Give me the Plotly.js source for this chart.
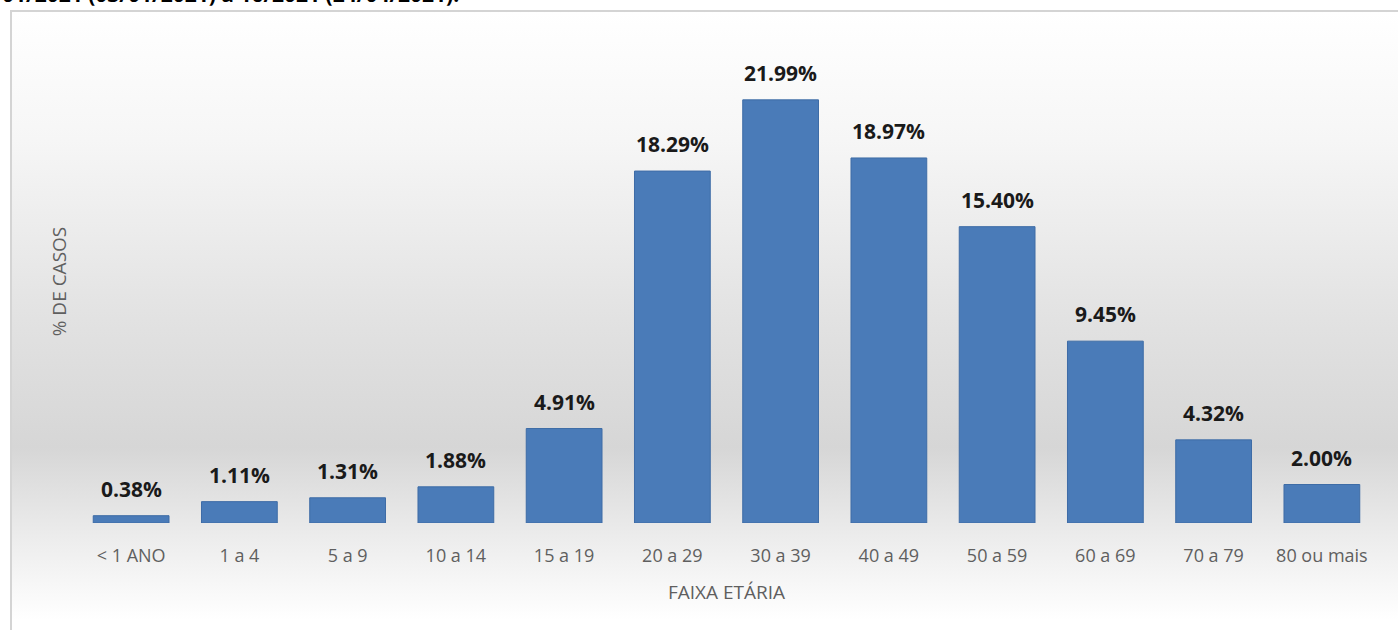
<!DOCTYPE html>
<html>
<head>
<meta charset="utf-8">
<script src="https://cdn.plot.ly/plotly-3.0.1.min.js"></script>
<style>
  html, body { margin: 0; padding: 0; background: #ffffff; overflow: hidden; }
  #wrap { position: relative; width: 1398px; height: 630px; }
  #frame {
    position: absolute; left: 10px; top: 10px; width: 1400px; height: 640px;
    border-left: 2px solid #d4d4d4; border-top: 2px solid #d4d4d4;
    background: linear-gradient(to bottom, #ffffff 0%, #f6f6f6 20%, #e2e2e2 48%, #d6d6d6 68%, #ececec 82%, #ffffff 95%);
  }
  #chart { position: absolute; left: 0; top: 0; width: 1398px; height: 630px; }
</style>
</head>
<body>
<div id="wrap">
  <div id="frame"></div>
  <div id="chart"></div>
</div>
<script>
const categories = ['< 1 ANO', '1 a 4', '5 a 9', '10 a 14', '15 a 19', '20 a 29', '30 a 39', '40 a 49', '50 a 59', '60 a 69', '70 a 79', '80 ou mais'];
const percentages = [0.38, 1.11, 1.31, 1.88, 4.91, 18.29, 21.99, 18.97, 15.40, 9.45, 4.32, 2.00];
const valueLabels = percentages.map(v => v.toFixed(2) + '%');
const headerText = '01/2021 (03/01/2021) a 16/2021 (24/04/2021).';
const xTitle = 'FAIXA ETÁRIA';
const yTitle = '% DE CASOS';

const W = 1398, H = 630;
const ml = 77, mr = 22, mt = 40, mb = 107;
const pw = W - ml - mr, ph = H - mt - mb;

const trace = {
  type: 'bar',
  x: categories,
  y: percentages,
  marker: { color: '#4a7bb8', line: { color: '#3e6ca6', width: 1 } },
  hoverinfo: 'none'
};

const labelAnnotations = categories.map((c, i) => ({
  x: c, y: percentages[i], xref: 'x', yref: 'y',
  text: valueLabels[i],
  showarrow: false,
  xanchor: 'center', yanchor: 'bottom',
  yshift: 11,
  font: { family: 'Open Sans, sans-serif', size: 21, color: '#1a1a1a', weight: 'bold' }
}));

const layout = {
  width: W, height: H,
  margin: { l: ml, r: mr, t: mt, b: mb },
  paper_bgcolor: 'rgba(0,0,0,0)',
  plot_bgcolor: 'rgba(0,0,0,0)',
  bargap: 0.3,
  showlegend: false,
  font: { family: 'Open Sans, sans-serif' },
  xaxis: {
    type: 'category',
    showgrid: false, zeroline: false, showline: false,
    ticks: '',
    ticklabelstandoff: 20,
    tickfont: { family: 'Open Sans, sans-serif', size: 18, color: '#5f5f5f' },
    title: { text: xTitle, font: { family: 'Open Sans, sans-serif', size: 19, color: '#5f5f5f' }, standoff: 19 }
  },
  yaxis: {
    range: [0, 25.1],
    showgrid: false, zeroline: false, showline: false,
    showticklabels: false, ticks: '',
    title: { text: yTitle, font: { family: 'Open Sans, sans-serif', size: 19, color: '#5f5f5f' }, standoff: 4 }
  },
  annotations: labelAnnotations.concat([{
    xref: 'paper', yref: 'paper',
    x: -ml / pw, y: (ph + mt - 10) / ph,
    xanchor: 'left', yanchor: 'bottom',
    text: headerText,
    showarrow: false,
    font: { family: 'Open Sans, sans-serif', size: 21, color: '#000000', weight: 'bold' }
  }])
};

Plotly.newPlot('chart', [trace], layout, { displayModeBar: false, staticPlot: true });
</script>
</body>
</html>
